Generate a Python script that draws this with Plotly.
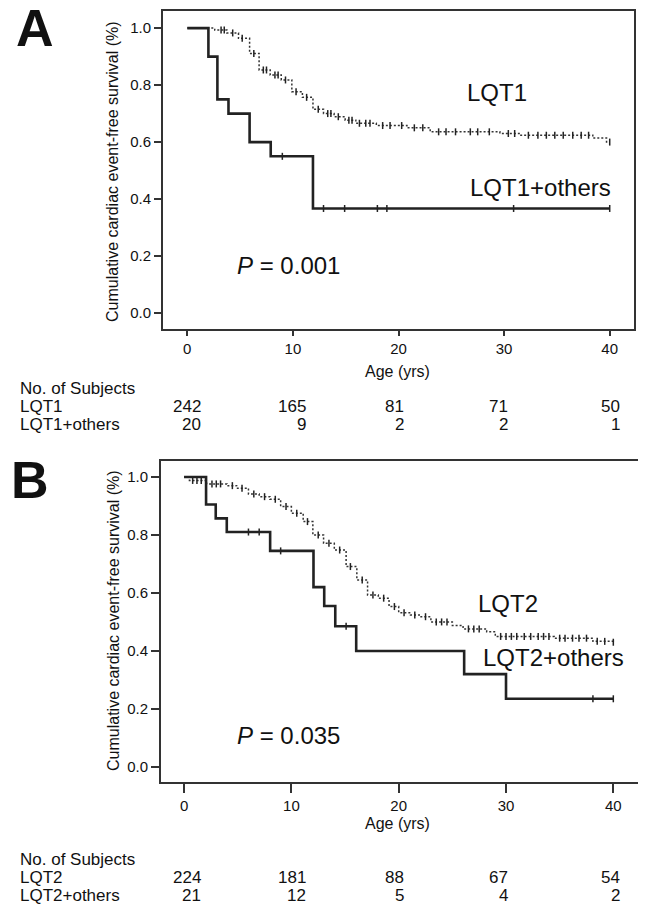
import plotly.graph_objects as go

W, H = 647, 908

# ---------------- data ----------------
ticks_x = [0, 10, 20, 30, 40]
ticks_y = [0.0, 0.2, 0.4, 0.6, 0.8, 1.0]

# Panel A
lqt1_t = [0, 2.6, 3.75, 4.85, 5.9, 6.8, 7.85, 8.9, 9.9, 10.9, 11.9, 12.9, 13.9, 14.95,
          15.96, 17.9, 20.8, 23.0, 29.6, 31.5, 38.4, 39.7, 40.0]
lqt1_s = [1.0, 0.993, 0.983, 0.964, 0.911, 0.853, 0.835, 0.818, 0.777, 0.757, 0.715, 0.700,
          0.689, 0.677, 0.666, 0.658, 0.650, 0.636, 0.630, 0.624, 0.614, 0.600, 0.600]
lqt1_cens = [3.2, 3.5, 4.3, 5.2, 6.3, 7.2, 7.5, 8.3, 8.6, 9.3, 10.3, 11.3, 12.4, 13.3, 13.6,
             14.3, 15.3, 15.6, 16.3, 16.9, 17.3, 18.5, 19.2, 20.3, 21.5, 22.3, 23.8, 24.5,
             25.4, 26.8, 27.5, 28.6, 30.4, 31.0, 32.3, 33.2, 34.0, 34.8, 35.6, 36.5, 37.3,
             38.0, 40.0]
lqt1o_t = [0, 2.0, 2.85, 3.9, 5.9, 7.9, 11.9, 40.0]
lqt1o_s = [1.0, 0.90, 0.75, 0.70, 0.60, 0.55, 0.367, 0.367]
lqt1o_cens = [9.0, 12.9, 14.9, 18.0, 18.9, 30.9, 40.0]

lqt1_n = ["242", "165", "81", "71", "50"]
lqt1o_n = ["20", "9", "2", "2", "1"]

# Panel B
lqt2_t = [0, 0.5, 2.1, 4.0, 4.9, 6.0, 7.0, 8.0, 9.0, 10.0, 11.1, 12.0, 13.0, 14.0, 15.1,
          16.1, 17.1, 18.1, 19.1, 20.0, 21.1, 22.0, 23.0, 25.0, 26.0, 28.2, 29.0, 34.5,
          38.1, 40.0]
lqt2_s = [1.0, 0.988, 0.976, 0.970, 0.961, 0.941, 0.932, 0.923, 0.898, 0.875, 0.846, 0.800,
          0.771, 0.748, 0.691, 0.645, 0.593, 0.582, 0.553, 0.532, 0.524, 0.518, 0.500,
          0.488, 0.476, 0.466, 0.450, 0.444, 0.433, 0.430]
lqt2_cens = [0.8, 1.2, 1.6, 2.6, 3.0, 3.4, 4.5, 5.4, 6.5, 7.5, 8.5, 9.5, 10.5, 11.5, 12.5,
             13.5, 14.5, 15.5, 16.6, 17.6, 18.6, 19.6, 20.5, 21.5, 22.5, 23.5, 24.0, 24.5,
             26.5, 27.0, 27.5, 29.5, 30.0, 30.5, 31.0, 31.7, 32.3, 33.0, 33.5, 34.0, 35.0,
             35.5, 36.2, 36.8, 37.5, 38.5, 39.2, 40.0]
lqt2o_t = [0, 2.05, 2.95, 3.98, 8.02, 12.06, 13.06, 14.09, 16.04, 26.1, 30.0, 40.0]
lqt2o_s = [1.0, 0.905, 0.857, 0.810, 0.745, 0.620, 0.555, 0.485, 0.400, 0.320, 0.235, 0.235]
lqt2o_cens = [6.0, 7.0, 9.0, 15.1, 38.1, 40.0]

lqt2_n = ["224", "181", "88", "67", "54"]
lqt2o_n = ["21", "12", "5", "4", "2"]


def step_at(ts, ss, t):
    v = ss[0]
    for ti, si in zip(ts, ss):
        if ti <= t:
            v = si
    return v


FONT = "Liberation Sans, Arial, sans-serif"
INK = "#111111"
AX = "#333333"

fig = go.Figure()


def add_panel(xa, ya, t_main, s_main, c_main, t_oth, s_oth, c_oth):
    fig.add_trace(go.Scatter(x=t_main, y=s_main, mode="lines", line_shape="hv",
                             line=dict(color="#333", width=1.5, dash="2px,2px"),
                             xaxis=xa, yaxis=ya, showlegend=False, hoverinfo="skip"))
    fig.add_trace(go.Scatter(x=c_main, y=[step_at(t_main, s_main, c) for c in c_main],
                             mode="markers",
                             marker=dict(symbol="line-ns", size=5,
                                         line=dict(color="#222", width=1.5)),
                             xaxis=xa, yaxis=ya, showlegend=False, hoverinfo="skip"))
    fig.add_trace(go.Scatter(x=t_oth, y=s_oth, mode="lines", line_shape="hv",
                             line=dict(color="#222", width=2.6),
                             xaxis=xa, yaxis=ya, showlegend=False, hoverinfo="skip"))
    fig.add_trace(go.Scatter(x=c_oth, y=[step_at(t_oth, s_oth, c) for c in c_oth],
                             mode="markers",
                             marker=dict(symbol="line-ns", size=5,
                                         line=dict(color="#222", width=1.5)),
                             xaxis=xa, yaxis=ya, showlegend=False, hoverinfo="skip"))


add_panel("x", "y", lqt1_t, lqt1_s, lqt1_cens, lqt1o_t, lqt1o_s, lqt1o_cens)
add_panel("x2", "y2", lqt2_t, lqt2_s, lqt2_cens, lqt2o_t, lqt2o_s, lqt2o_cens)


def px(x):
    return x / W


def py(y):
    return 1 - y / H


axis_common = dict(showgrid=False, zeroline=False, showline=True, linecolor=AX,
                   linewidth=2, ticks="outside", tickcolor=AX, tickwidth=1.5,
                   tickfont=dict(family=FONT, size=15, color=INK))

fig.update_layout(
    width=W, height=H, margin=dict(l=0, r=0, t=0, b=0),
    paper_bgcolor="white", plot_bgcolor="white",
    xaxis=dict(domain=[px(163), px(634)], range=[-2.3, 42.3], tickvals=ticks_x,
               ticklen=5, mirror=True, anchor="y", **axis_common),
    yaxis=dict(domain=[py(329), py(11)], range=[-0.056, 1.06], tickvals=ticks_y,
               tickformat=".1f", ticklen=7, mirror=True, anchor="x", **axis_common),
    xaxis2=dict(domain=[px(161), px(638)], range=[-2.15, 42.3], tickvals=ticks_x,
                ticklen=9, mirror=True, anchor="y2", **axis_common),
    yaxis2=dict(domain=[py(782), py(461)], range=[-0.052, 1.055], tickvals=ticks_y,
                tickformat=".1f", ticklen=8, mirror=False, anchor="x2", **axis_common),
)

ann = []


def text(x, y, s, size, xanchor="center", angle=0, bold=False):
    ann.append(dict(x=px(x), y=py(y), xref="paper", yref="paper", text=s,
                    showarrow=False, xanchor=xanchor, yanchor="middle",
                    textangle=angle,
                    font=dict(family=FONT, size=size, color=INK,
                              weight="bold" if bold else "normal")))


# Panel labels
text(35, 28, "A", 52, bold=True)
text(30, 480, "B", 52, bold=True)

# Y titles
ytitle = "Cumulative cardiac event-free survival (%)"
text(113, 171, ytitle, 16, angle=-90)
text(113, 620, ytitle, 16, angle=-90)

# X titles
text(398, 371, "Age (yrs)", 16)
text(398, 823, "Age (yrs)", 16)

# In-plot labels
text(497, 93, "LQT1", 24)
text(540, 187, "LQT1+others", 24)
text(235, 265, "<i>P</i> = 0.001", 24, xanchor="left")
text(508, 603, "LQT2", 24)
text(553, 657, "LQT2+others", 24)
text(235, 735, "<i>P</i> = 0.035", 24, xanchor="left")

# Number-at-risk tables
col_right = [203, 308, 406, 510, 622]
text(18, 388, "No. of Subjects", 17, xanchor="left")
text(18, 406, "LQT1", 17, xanchor="left")
text(18, 424, "LQT1+others", 17, xanchor="left")
for xr, a, b in zip(col_right, lqt1_n, lqt1o_n):
    text(xr, 406, a, 17, xanchor="right")
    text(xr, 424, b, 17, xanchor="right")

text(18, 859, "No. of Subjects", 17, xanchor="left")
text(18, 877, "LQT2", 17, xanchor="left")
text(18, 895, "LQT2+others", 17, xanchor="left")
for xr, a, b in zip(col_right, lqt2_n, lqt2o_n):
    text(xr, 877, a, 17, xanchor="right")
    text(xr, 895, b, 17, xanchor="right")

fig.update_layout(annotations=ann)

fig.write_html("out.html")
